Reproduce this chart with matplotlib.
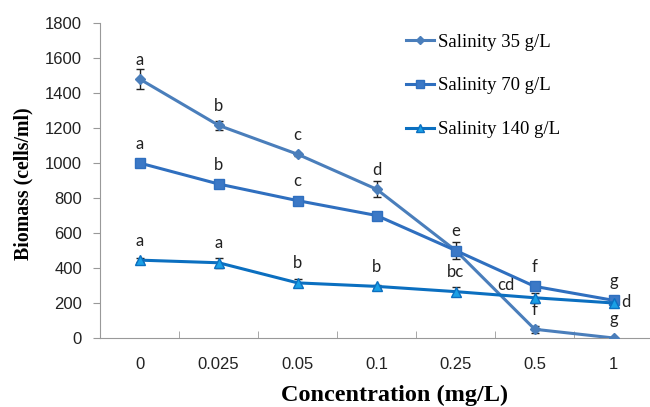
import matplotlib
matplotlib.use("Agg")
import matplotlib.pyplot as plt
from matplotlib.lines import Line2D
import numpy as np

# data
concentrations = ["0", "0.025", "0.05", "0.1", "0.25", "0.5", "1"]

sal35 = [1480, 1215, 1050, 850, 500, 50, 0]
sal35_err = [55, 25, 10, 45, 0, 20, 0]
sal35_letters = ["a", "b", "c", "d", "e", "f", "g"]

sal70 = [1000, 880, 785, 700, 500, 295, 215]
sal70_err = [10, 20, 15, 10, 50, 20, 20]
sal70_letters = ["a", "b", "c", None, None, "f", "g"]

sal140 = [445, 430, 315, 295, 265, 230, 200]
sal140_err = [10, 30, 25, 10, 25, 30, 10]
sal140_letters = ["a", "a", "b", "b", "bc", "cd", "d"]

fig = plt.figure(figsize=(6.5, 4.07), dpi=100)
ax = fig.add_axes([0.154, 0.1695, 0.851, 0.774])

x = np.arange(len(concentrations))

series = [
    ("Salinity 35 g/L", sal35, sal35_err, sal35_letters, "#4a7ebb", "D", 5.5, "#4a7ebb"),
    ("Salinity 70 g/L", sal70, sal70_err, sal70_letters, "#2f6fbf", "s", 6.5, "#3b78c6"),
    ("Salinity 140 g/L", sal140, sal140_err, sal140_letters, "#0b6fc0", "^", 7, "#1aa0e6"),
]

handles = []
for name, vals, errs, letters, col, mk, ms, mcol in series:
    ax.errorbar(x, vals, yerr=errs, color=col, lw=2.2, marker=mk, ms=ms,
                mfc=mcol, mec=col, ecolor="#222222", elinewidth=1, capsize=3,
                capthick=1, zorder=3)
    handles.append(Line2D([], [], color=col, lw=2.2, marker=mk, ms=ms - 1,
                          mfc=mcol, mec=col, label=name))

# significance letters
special = {("Salinity 140 g/L", 5): (-21, 9), ("Salinity 140 g/L", 6): (9, 1)}
for name, vals, errs, letters, col, mk, ms, mcol in series:
    for i, lab in enumerate(letters):
        if lab is None:
            continue
        dx, dy = special.get((name, i), (0, 14))
        ax.annotate(lab, (x[i], vals[i]), xytext=(dx, dy), textcoords="offset points",
                    ha="center", va="center", fontsize=12, family="Lato", color="#222222")

ax.set_xlim(-0.5, 6.5)
ax.set_ylim(0, 1800)
ax.set_yticks(range(0, 1801, 200))
ax.set_xticks(x)
ax.set_xticklabels(concentrations)
ax.set_xticks(np.arange(0.5, 6, 1), minor=True)
ax.tick_params(axis="x", which="major", length=0, pad=14)
ax.tick_params(axis="x", which="minor", length=5, color="#999999", direction="in")
ax.tick_params(axis="y", length=5, color="#999999", pad=8)
for lab in ax.get_xticklabels() + ax.get_yticklabels():
    lab.set_fontfamily("Liberation Sans")
    lab.set_fontsize(12)
    lab.set_color("#222222")

for s in ["top", "right"]:
    ax.spines[s].set_visible(False)
for s in ["left", "bottom"]:
    ax.spines[s].set_color("#999999")

ax.set_xlabel("Concentration (mg/L)", fontfamily="Liberation Serif", fontweight="bold",
              fontsize=17.5)
ax.set_ylabel("Biomass (cells/ml)", fontfamily="Liberation Serif", fontweight="bold",
              fontsize=14.3)
ax.xaxis.set_label_coords(0.533, -0.149)
ax.yaxis.set_label_coords(-0.121, 0.49)

leg = ax.legend(handles=handles, loc="upper left", bbox_to_anchor=(0.522, 1.02),
                frameon=False, prop={"family": "Liberation Serif", "size": 13.5},
                labelspacing=1.42, handlelength=1.5, handletextpad=0.2)

fig.savefig("out.png", dpi=100)
